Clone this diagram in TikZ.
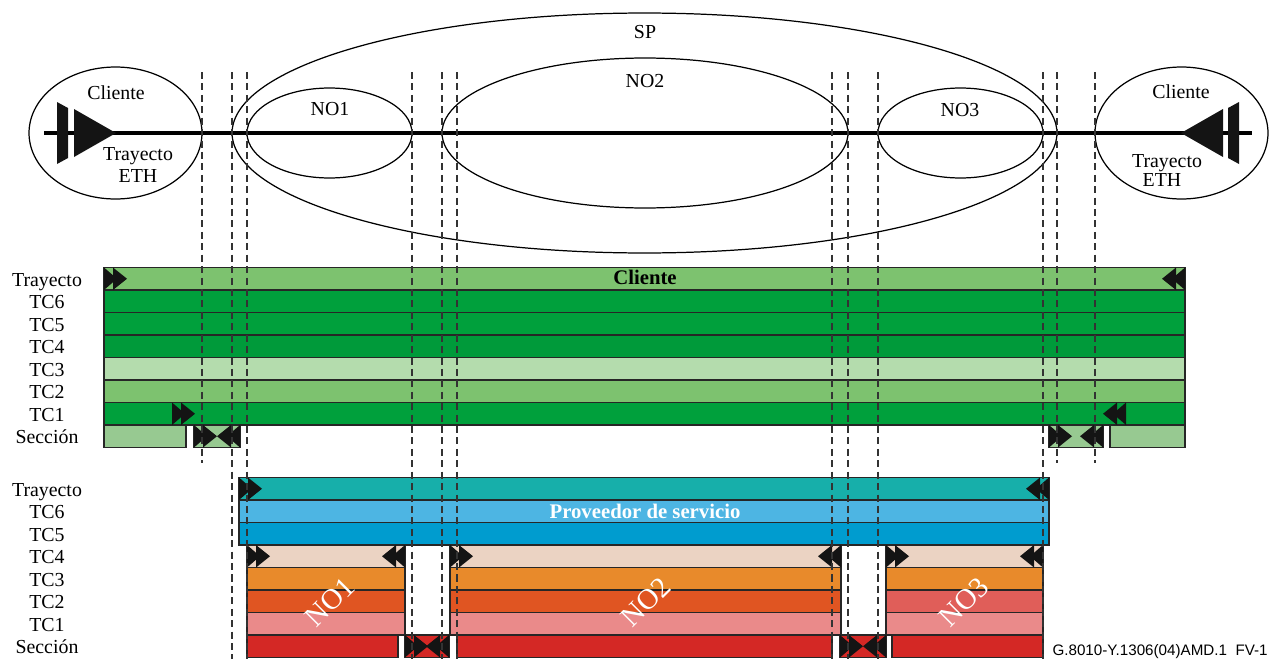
\documentclass[tikz,border=0pt]{standalone}
\usepackage{fontspec}
\setmainfont{Liberation Serif}
\newfontfamily\tagfont{Liberation Sans}
\usepackage{tikz}
\usetikzlibrary{positioning, calc}
\definecolor{cGrnA}{RGB}{125,194,111}
\definecolor{cGrnB}{RGB}{0,160,60}
\definecolor{cGrnE}{RGB}{0,154,58}
\definecolor{cGrnC}{RGB}{180,220,173}
\definecolor{cGrnD}{RGB}{151,201,145}
\definecolor{cTeal}{RGB}{23,175,170}
\definecolor{cSky}{RGB}{77,181,227}
\definecolor{cBlue}{RGB}{0,156,207}
\definecolor{cPeach}{RGB}{235,211,195}
\definecolor{cOrange}{RGB}{232,138,43}
\definecolor{cRust}{RGB}{224,85,34}
\definecolor{cSalmon}{RGB}{224,94,89}
\definecolor{cPink}{RGB}{234,138,138}
\definecolor{cRed}{RGB}{212,40,37}
\tikzset{
	bar/.style   ={draw=black!85, line width=0.6pt},
	guide/.style ={dashed, dash pattern=on 4pt off 2.5pt, draw=black!80, line width=0.6pt},
	oval/.style  ={line width=0.7pt},
	trunk/.style ={line width=1.8pt},
	tipfill/.style={fill=black!92},
	lbl/.style   ={anchor=base, inner sep=0pt, font=\fontsize{11.3}{13}\selectfont},
	head/.style  ={anchor=base, inner sep=0pt, font=\fontsize{11.8}{14}\selectfont\bfseries},
	diag/.style  ={rotate=45, inner sep=0pt, text=white, font=\fontsize{16.5}{18}\selectfont},
}
% one coloured cell: colour, left x, right x, top y
\newcommand{\cell}[4]{\draw[bar, fill=#1] (#2,#4) rectangle (#3,#4+22.5);}
% double heads: base x, top y
\newcommand{\tipsR}[2]{\fill[tipfill] (#1,#2) -- ++(13,11.25) -- ++(-13,11.25) -- cycle;
	\fill[tipfill] (#1+9,#2) -- ++(14,11.25) -- ++(-14,11.25) -- cycle;}
\newcommand{\tipsL}[2]{\fill[tipfill] (#1,#2) -- ++(-13,11.25) -- ++(13,11.25) -- cycle;
	\fill[tipfill] (#1-9,#2) -- ++(-14,11.25) -- ++(14,11.25) -- cycle;}

\begin{document}
\begin{tikzpicture}[x=0.02cm, y=-0.02cm]
	\useasboundingbox (0,0) rectangle (1271,659);
	% top view
	\draw[oval] (115.5,133) ellipse [x radius=1.73cm, y radius=1.32cm];
	\draw[oval] (1181.5,133) ellipse [x radius=1.73cm, y radius=1.32cm];
	\draw[oval] (644.5,133) ellipse [x radius=8.25cm, y radius=2.4cm];
	\draw[oval] (645,133) ellipse [x radius=4.06cm, y radius=1.5cm];
	\draw[oval] (329.5,133) ellipse [x radius=1.65cm, y radius=0.9cm];
	\draw[oval] (960.5,133) ellipse [x radius=1.65cm, y radius=0.9cm];
	\coordinate (trA) at (44,133);
	\coordinate (trB) at (1252,133);
	\draw[trunk] (trA) -- (trB);
	\fill[tipfill] (57,102) -- (68,108) -- (68,158) -- (57,164) -- cycle;
	\fill[tipfill] (74,109) -- (116,133) -- (74,157) -- cycle;
	\fill[tipfill] (1239,102) -- (1228,108) -- (1228,158) -- (1239,164) -- cycle;
	\fill[tipfill] (1223,109) -- (1181,133) -- (1223,157) -- cycle;
	\node[lbl] (cliL) at (116,99) {Cliente};
	\node[lbl] (trayL) at (138,160) {Trayecto};
	\node[lbl] (ethL) at (138,182) {ETH};
	\node[lbl] (cliR) at (1181,98) {Cliente};
	\node[lbl] (trayR) at (1167,167) {Trayecto};
	\node[lbl] (ethR) at (1162,186) {ETH};
	\node[lbl] (spL) at (645,38) {SP};
	\node[lbl] (no2L) at (645,87) {NO2};
	\node[lbl] (no1L) at (330,115) {NO1};
	\node[lbl] (no3L) at (960,116) {NO3};
	% client layers
	\foreach \c [count=\i from 0] in {cGrnA,cGrnB,cGrnB,cGrnE,cGrnC,cGrnA,cGrnB}
		\cell{\c}{104}{1185}{267.5+22.5*\i};
	\cell{cGrnD}{104}{186}{425}
	\cell{cGrnD}{194}{240}{425}
	\cell{cGrnD}{1049}{1103}{425}
	\cell{cGrnD}{1110}{1185}{425}
	\tipsR{104}{267.5} \tipsL{1185}{267.5}
	\tipsR{172}{402.5} \tipsL{1126}{402.5}
	\tipsR{194}{425} \tipsL{240}{425}
	\tipsR{1049}{425} \tipsL{1103}{425}
	\node[head] (cliBar) at (645,284.5) {Cliente};
	% provider layers
	\cell{cTeal}{239}{1049}{477.5}
	\cell{cSky}{239}{1049}{500}
	\cell{cBlue}{239}{1049}{522.5}
	\foreach \a/\b/\d in {247/405/cRust, 450/841/cRust, 886/1043/cSalmon} {
		\cell{cPeach}{\a}{\b}{545}
		\cell{cOrange}{\a}{\b}{567.5}
		\cell{\d}{\a}{\b}{590}
		\cell{cPink}{\a}{\b}{612.5}
		\tipsR{\a}{545} \tipsL{\b}{545}
	}
	\foreach \a/\b in {247/398, 405/449, 457/832, 840/886, 892/1043}
		\cell{cRed}{\a}{\b}{635};
	\tipsR{239}{477.5} \tipsL{1049}{477.5}
	\tipsR{405}{635} \tipsL{449}{635}
	\tipsR{840}{635} \tipsL{886}{635}
	\node[head, text=white] (spBar) at (645,518) {Proveedor de servicio};
	\node[diag] (no1D) at (330,602) {NO1};
	\node[diag] (no2D) at (646,602) {NO2};
	\node[diag] (no3D) at (964,602) {NO3};
	% row names
	\foreach \t [count=\i from 0] in {Trayecto,TC6,TC5,TC4,TC3,TC2,TC1,Sección} {
		\node[lbl] (gRow\i) at (47,286+22.5*\i) {\t};
		\node[lbl] (bRow\i) at (47,496+22.5*\i) {\t};
	}
	% guides
	\foreach \x in {202,1057,1095}
		\draw[guide] (\x,72) -- (\x,463);
	\foreach \x in {232,247,412,442,457,832,848,878,1043}
		\draw[guide] (\x,72) -- (\x,659);
	\node[anchor=base east, inner sep=0pt, font=\tagfont\fontsize{8.65}{10}\selectfont] (figTag) at (1268,655) {G.8010-Y.1306(04)AMD.1\ \ FV-1};
\end{tikzpicture}
\end{document}
